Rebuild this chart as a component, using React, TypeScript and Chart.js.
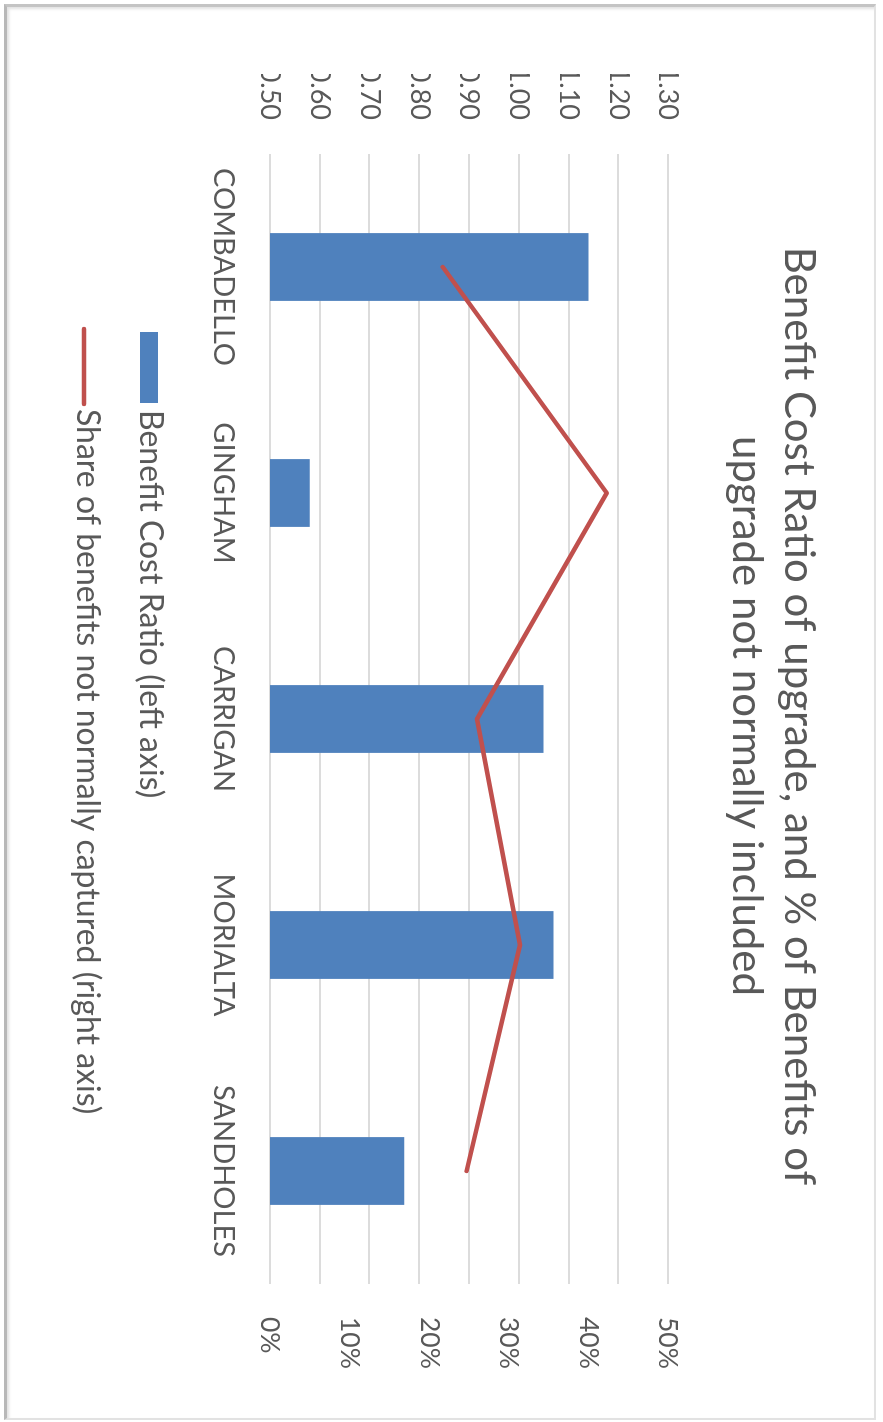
import React, { useEffect, useRef } from 'react';
import { Chart, registerables } from 'chart.js';

Chart.register(...registerables);

// ---------- data ----------
const titleLines = ['Benefit Cost Ratio of upgrade, and % of Benefits of', 'upgrade not normally included'];
const categories = ['COMBADELLO', 'GINGHAM', 'CARRIGAN', 'MORIALTA', 'SANDHOLES'];
const benefitCostRatio = [1.14, 0.58, 1.05, 1.07, 0.77];
const shareNotCaptured = [21.7, 42.3, 26.0, 31.4, 24.7];
const leftAxisTicks = [0.5, 0.6, 0.7, 0.8, 0.9, 1.0, 1.1, 1.2, 1.3];
const rightAxisTicks = [0, 10, 20, 30, 40, 50];
const seriesLabels = ['Benefit Cost Ratio (left axis)', 'Share of benefits not normally captured (right axis)'];

// ---------- styles ----------
const FONT = 'Lato, "Open Sans", sans-serif';
const TEXT = '#595959';
const BAR = '#4F81BD';
const LINE = '#C0504D';
const GRID = '#dcdcdc';
const W = 1422; // chart drawn landscape, then rotated 90deg clockwise
const H = 883;
const CLIP_U = 74;

const legendPlugin = {
  id: 'stackedLegend',
  beforeDraw(chart: any) {
    const { ctx } = chart;
    ctx.save();
    ctx.beginPath();
    ctx.rect(CLIP_U, 0, chart.width - CLIP_U, chart.height);
    ctx.clip();
  },
  afterDraw(chart: any) {
    const { ctx, chartArea } = chart;
    const ds = chart.data.datasets;
    const x0 = chartArea.left + 178;
    const row1 = chartArea.bottom + 120;
    const row2 = chartArea.bottom + 183;
    ctx.save();
    // bar entry
    ctx.fillStyle = ds[0].backgroundColor;
    ctx.fillRect(x0, row1 - 8, 71, 18);
    // line entry
    ctx.strokeStyle = ds[1].borderColor;
    ctx.lineWidth = 4.5;
    ctx.lineCap = 'round';
    ctx.beginPath();
    ctx.moveTo(x0 - 3, row2 + 3);
    ctx.lineTo(x0 + 72, row2 + 3);
    ctx.stroke();
    ctx.font = `32px ${FONT}`;
    ctx.fillStyle = TEXT;
    ctx.textAlign = 'left';
    ctx.textBaseline = 'middle';
    ctx.fillText(ds[0].label, x0 + 78, row1);
    ctx.fillText(ds[1].label, x0 + 77, row2);
    ctx.restore();
    ctx.restore();
  },
};

export default function App() {
  const ref = useRef<HTMLCanvasElement | null>(null);

  useEffect(() => {
    if (!ref.current) return;
    const chart = new Chart(ref.current, {
      type: 'bar',
      data: {
        labels: categories,
        datasets: [
          {
            type: 'bar',
            label: seriesLabels[0],
            data: benefitCostRatio,
            backgroundColor: BAR,
            borderWidth: 0,
            barPercentage: 0.3,
            categoryPercentage: 1.0,
            yAxisID: 'y',
            order: 1,
          },
          {
            type: 'line',
            label: seriesLabels[1],
            data: shareNotCaptured,
            borderColor: LINE,
            backgroundColor: LINE,
            borderWidth: 4.5,
            pointRadius: 0,
            tension: 0,
            borderJoinStyle: 'round',
            borderCapStyle: 'round',
            yAxisID: 'y1',
            order: 0,
          },
        ] as any,
      },
      options: {
        responsive: false,
        animation: false,
        devicePixelRatio: 1,
        layout: { padding: { left: 10, right: 0, top: 0, bottom: 180 } },
        plugins: {
          legend: { display: false },
          tooltip: { enabled: false },
          title: {
            display: true,
            text: titleLines,
            color: TEXT,
            font: { family: FONT, size: 42, weight: 'normal', lineHeight: 52 / 42 },
            padding: { top: 58, bottom: 53 },
          },
        },
        scales: {
          x: {
            type: 'category',
            grid: { display: false },
            border: { display: false },
            ticks: { color: TEXT, font: { family: FONT, size: 29 }, padding: 21, maxRotation: 0, autoSkip: false },
            afterFit: (s: any) => { s.height = 90; },
          },
          y: {
            type: 'linear',
            position: 'left',
            min: leftAxisTicks[0],
            max: leftAxisTicks[leftAxisTicks.length - 1],
            afterBuildTicks: (s: any) => { s.ticks = leftAxisTicks.map((v) => ({ value: v })); },
            grid: { color: GRID, lineWidth: 2, drawTicks: false },
            border: { display: false },
            ticks: {
              color: TEXT,
              font: { family: FONT, size: 27 },
              padding: 34,
              callback: (v: any) => Number(v).toFixed(2),
            },
            afterFit: (s: any) => { s.width = 144; },
          },
          y1: {
            type: 'linear',
            position: 'right',
            min: rightAxisTicks[0],
            max: rightAxisTicks[rightAxisTicks.length - 1],
            afterBuildTicks: (s: any) => { s.ticks = rightAxisTicks.map((v) => ({ value: v })); },
            grid: { display: false },
            border: { display: false },
            ticks: {
              color: TEXT,
              font: { family: FONT, size: 26.5 },
              padding: 25,
              callback: (v: any) => `${v}%`,
            },
            afterFit: (s: any) => { s.width = 138; },
          },
        },
      } as any,
      plugins: [legendPlugin],
    });
    return () => chart.destroy();
  }, []);

  return (
    <div style={{ position: 'fixed', left: 0, top: 0, width: 883, height: 1422, background: '#fff', overflow: 'hidden' }}>
      <div
        style={{
          position: 'absolute',
          left: 4,
          top: 4,
          width: 872,
          height: 1416,
          boxSizing: 'border-box',
          borderLeft: '3px solid #b8b8b8',
          borderTop: '3px solid #c4c4c4',
          borderRight: '2px solid #e2e2e2',
          borderBottom: '2px solid #e2e2e2',
          boxShadow: 'inset 2px 2px 3px rgba(0,0,0,0.12)',
        }}
      />
      <div
        style={{
          position: 'absolute',
          left: 0,
          top: 0,
          width: W,
          height: H,
          transformOrigin: '0 0',
          transform: `translate(${H}px, 0) rotate(90deg)`,
        }}
      >
        <canvas ref={ref} width={W} height={H} style={{ display: 'block', width: W, height: H }} />
      </div>
    </div>
  );
}
